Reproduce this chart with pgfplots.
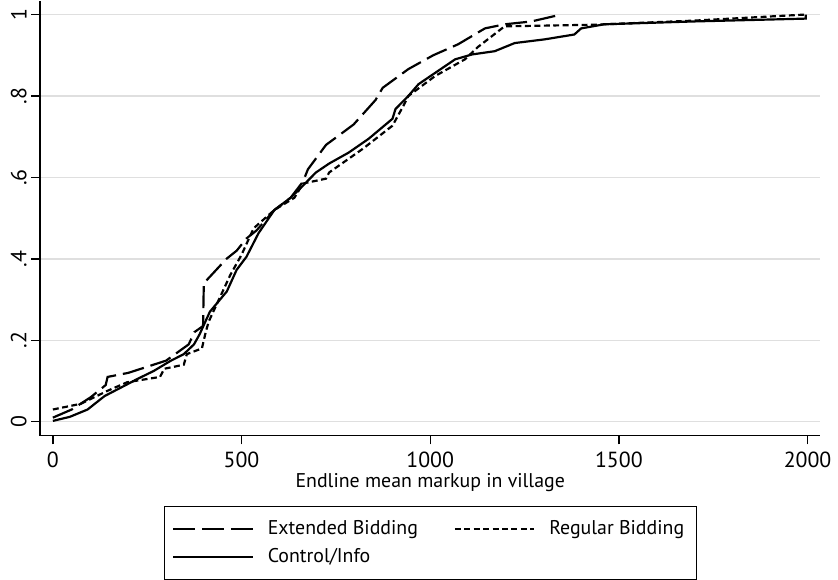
\documentclass[border=0pt]{standalone}
\usepackage{fontspec}
\setmainfont{PT Sans}
\usepackage{pgfplots}
\pgfplotsset{compat=1.18}

\begin{document}
\begin{tikzpicture}
\begin{axis}[
  scale only axis, width=393pt, height=219pt,
  xmin=-34, xmax=2034, ymin=-0.034, ymax=1.034,
  axis x line=bottom, axis y line=left,
  axis line style={-, line width=0.7pt},
  xtick={0,500,1000,1500,2000}, xticklabels={0,500,1000,1500,2000},
  ytick={0,0.2,0.4,0.6,0.8,1}, yticklabels={0,.2,.4,.6,.8,1},
  yticklabel style={rotate=90, anchor=south, inner sep=2pt},
  ticklabel style={font=\fontsize{11}{13}\selectfont},
  tick align=outside, major tick length=4.5pt,
  tick style={black, line width=0.7pt},
  ymajorgrids, grid style={gray!25, line width=0.7pt},
  xlabel={\fontsize{10}{12}\selectfont Endline mean markup in village},
  xlabel style={yshift=4pt},
  legend columns=2,
  legend style={at={(0.5,-0.162)}, anchor=north, draw=black, line width=0.5pt,
    font=\fontsize{10}{12}\selectfont, inner xsep=4pt, inner ysep=5pt,
    row sep=1.5pt, cells={anchor=west},
    /tikz/every even column/.append style={column sep=16pt}},
  legend image code/.code={\draw[#1] (0pt,0pt) -- (40pt,0pt);},
  every axis plot/.append style={black, line width=1.1pt},
]
\addplot[dash pattern=on 11pt off 3.5pt] coordinates {
(0,0.01) (50,0.03) (100,0.06) (140,0.09) (145,0.11) (200,0.12) (250,0.135) (300,0.15)
(330,0.17) (360,0.19) (375,0.22) (398,0.235) (400,0.34) (430,0.37) (460,0.40) (487,0.42)
(513,0.45) (540,0.47) (587,0.52) (630,0.55) (663,0.59) (676,0.62) (724,0.68) (768,0.71)
(797,0.73) (855,0.79) (874,0.82) (942,0.866) (1008,0.90) (1074,0.927) (1145,0.966)
(1197,0.976) (1268,0.983) (1347,1.0)};
\addlegendentry{\hspace{5pt}Extended Bidding}
\addplot[dash pattern=on 3pt off 1.75pt] coordinates {
(0,0.03) (74,0.044) (145,0.076) (197,0.097) (284,0.11) (295,0.13) (347,0.14) (355,0.166)
(395,0.18) (405,0.22) (413,0.246) (440,0.30) (470,0.36) (500,0.41) (532,0.475) (587,0.52)
(640,0.55) (663,0.585) (724,0.597) (732,0.612) (821,0.67) (900,0.727) (929,0.776)
(942,0.80) (1013,0.849) (1092,0.89) (1126,0.92) (1197,0.971) (1434,0.975) (1697,0.985)
(1995,1.0)};
\addlegendentry{\hspace{5pt}Regular Bidding\hspace{5pt}}
\addplot[solid] coordinates {
(0,0.002) (45,0.012) (92,0.03) (137,0.063) (189,0.088) (224,0.105) (268,0.125) (311,0.149)
(347,0.166) (374,0.19) (389,0.215) (416,0.27) (461,0.32) (487,0.373) (513,0.405)
(545,0.463) (587,0.52) (630,0.55) (663,0.58) (697,0.612) (732,0.634) (784,0.661)
(837,0.695) (900,0.744) (908,0.768) (942,0.80) (969,0.829) (1066,0.89) (1111,0.902)
(1171,0.91) (1224,0.93) (1303,0.939) (1382,0.951) (1400,0.966) (1461,0.976) (1697,0.983)
(1995,0.99) (1995,1.0)};
\addlegendentry{\hspace{5pt}Control/Info}
\end{axis}
\path ([xshift=-3.5pt]current axis.outer south west);
\end{tikzpicture}
\end{document}
